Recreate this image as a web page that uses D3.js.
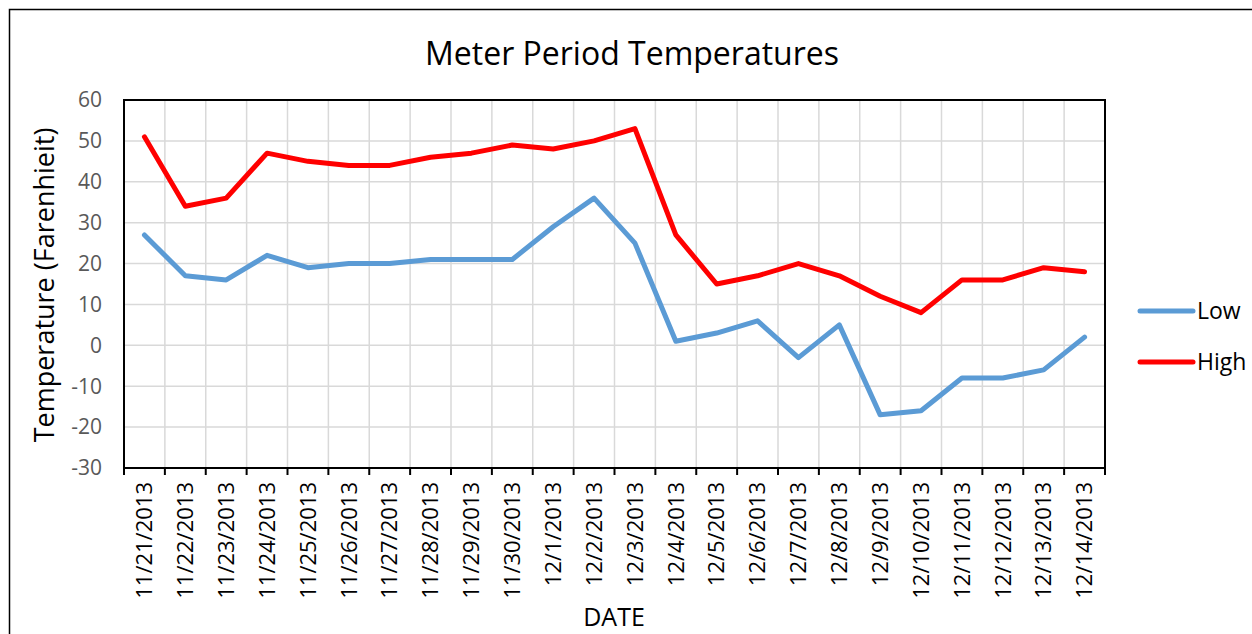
<!DOCTYPE html>
<html>
<head>
<meta charset="utf-8">
<script src="https://cdn.jsdelivr.net/npm/d3@7"></script>
<style>
  body { margin: 0; background: #fff; }
  text { font-family: "Open Sans", "Noto Sans", sans-serif; }
</style>
</head>
<body>
<svg id="chart" width="1252" height="634"></svg>
<script>
// chart data
const dates = ["11/21/2013", "11/22/2013", "11/23/2013", "11/24/2013", "11/25/2013", "11/26/2013",
    "11/27/2013", "11/28/2013", "11/29/2013", "11/30/2013", "12/1/2013", "12/2/2013", "12/3/2013",
    "12/4/2013", "12/5/2013", "12/6/2013", "12/7/2013", "12/8/2013", "12/9/2013", "12/10/2013",
    "12/11/2013", "12/12/2013", "12/13/2013", "12/14/2013"];
const lowTemps = [27, 17, 16, 22, 19, 20, 20, 21, 21, 21, 29, 36, 25, 1, 3, 6, -3, 5, -17, -16, -8, -8, -6, 2];
const highTemps = [51, 34, 36, 47, 45, 44, 44, 46, 47, 49, 48, 50, 53, 27, 15, 17, 20, 17, 12, 8, 16, 16, 19, 18];
const yTicks = [-30, -20, -10, 0, 10, 20, 30, 40, 50, 60];
const seriesNames = ["Low", "High"];
const seriesColors = ["#5b9bd5", "#ff0000"];

let svg = d3.select("#chart");

// outer chart border
svg.append("rect")
    .attr("x", 9.5).attr("y", 9.5)
    .attr("width", 1252).attr("height", 640)
    .attr("fill", "none")
    .attr("stroke", "#000")
    .attr("stroke-width", 1.5);

let plot = { left: 124, top: 100, right: 1105, bottom: 468 };

let x = d3.scaleBand()
    .domain(dates)
    .range([plot.left, plot.right]);

let y = d3.scaleLinear()
    .domain([-30, 60])
    .range([plot.bottom, plot.top]);

// gridlines
svg.append("g")
    .selectAll("line")
    .data(yTicks)
    .join("line")
    .attr("x1", plot.left).attr("x2", plot.right)
    .attr("y1", d => y(d)).attr("y2", d => y(d))
    .attr("stroke", "#d9d9d9")
    .attr("stroke-width", 1.5);

svg.append("g")
    .selectAll("line")
    .data(dates.slice(1))
    .join("line")
    .attr("x1", d => x(d)).attr("x2", d => x(d))
    .attr("y1", plot.top).attr("y2", plot.bottom)
    .attr("stroke", "#d9d9d9")
    .attr("stroke-width", 1.5);

// plot area border
svg.append("rect")
    .attr("x", plot.left).attr("y", plot.top)
    .attr("width", plot.right - plot.left)
    .attr("height", plot.bottom - plot.top)
    .attr("fill", "none")
    .attr("stroke", "#000")
    .attr("stroke-width", 2);

// y tick labels
svg.append("g")
    .selectAll("text")
    .data(yTicks)
    .join("text")
    .attr("x", 102)
    .attr("y", d => y(d))
    .attr("dy", "0.35em")
    .attr("text-anchor", "end")
    .attr("fill", "#595959")
    .style("font-size", "21px")
    .text(d => d);

// x tick marks
let tickPos = dates.map(d => x(d)).concat([plot.right]);
svg.append("g")
    .selectAll("line")
    .data(tickPos)
    .join("line")
    .attr("x1", d => d).attr("x2", d => d)
    .attr("y1", plot.bottom).attr("y2", plot.bottom + 7)
    .attr("stroke", "#000")
    .attr("stroke-width", 2);

// x tick labels (rotated)
svg.append("g")
    .selectAll("text")
    .data(dates)
    .join("text")
    .attr("transform", d => `translate(${x(d) + x.bandwidth() / 2},${plot.bottom + 14}) rotate(-90)`)
    .attr("dy", "0.35em")
    .attr("text-anchor", "end")
    .attr("fill", "#000")
    .style("font-size", "22px")
    .text(d => d);

// lines
let line = d3.line()
    .x((d, i) => x(dates[i]) + x.bandwidth() / 2)
    .y(d => y(d));

[lowTemps, highTemps].forEach(function (series, i) {
    svg.append("path")
        .datum(series)
        .attr("d", line)
        .attr("fill", "none")
        .attr("stroke", seriesColors[i])
        .attr("stroke-width", 5)
        .attr("stroke-linejoin", "round")
        .attr("stroke-linecap", "round");
});

// title
svg.append("text")
    .attr("x", 632).attr("y", 65)
    .attr("text-anchor", "middle")
    .attr("fill", "#000")
    .style("font-size", "32px")
    .text("Meter Period Temperatures");

// axis titles
svg.append("text")
    .attr("transform", "translate(54,285) rotate(-90)")
    .attr("text-anchor", "middle")
    .attr("fill", "#000")
    .style("font-size", "27px")
    .text("Temperature (Farenhieit)");

svg.append("text")
    .attr("x", 614).attr("y", 626)
    .attr("text-anchor", "middle")
    .attr("fill", "#000")
    .style("font-size", "25px")
    .text("DATE");

// legend
let legend = svg.append("g")
    .selectAll("g")
    .data(seriesNames)
    .join("g")
    .attr("transform", (d, i) => `translate(1140,${311 + i * 51})`);

legend.append("line")
    .attr("x1", 0).attr("x2", 53)
    .attr("stroke", (d, i) => seriesColors[i])
    .attr("stroke-width", 5)
    .attr("stroke-linecap", "round");

legend.append("text")
    .attr("x", 57)
    .attr("dy", "0.35em")
    .attr("fill", "#000")
    .style("font-size", "23px")
    .text(d => d);
</script>
</body>
</html>
